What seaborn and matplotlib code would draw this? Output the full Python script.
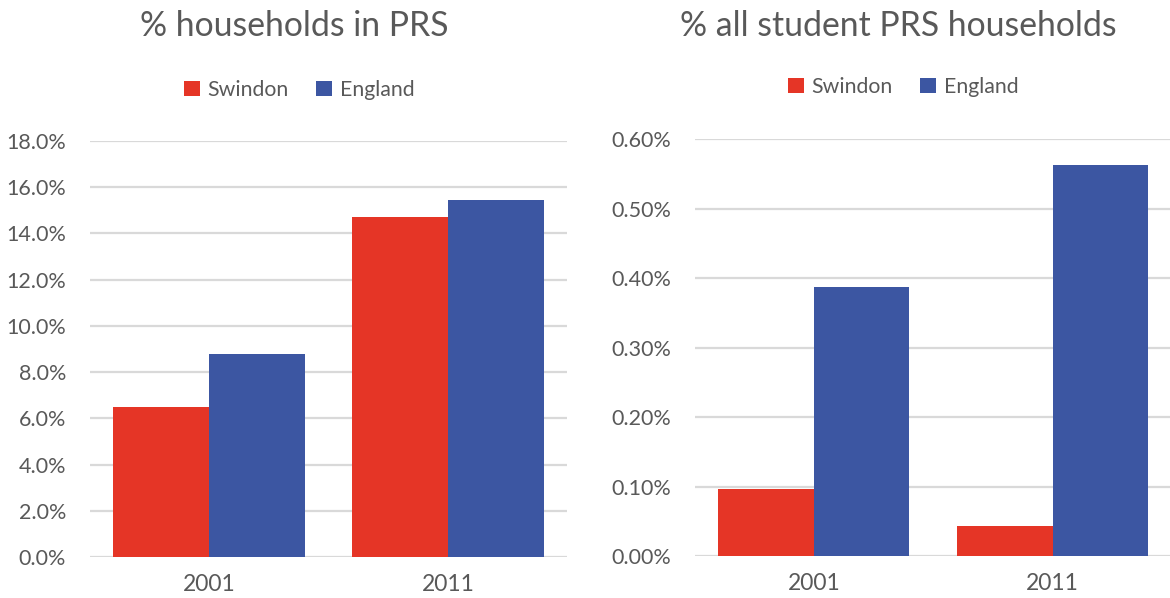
import matplotlib
matplotlib.use("Agg")
import matplotlib.pyplot as plt
import seaborn as sns
import pandas as pd

years = ["2001", "2011"]
areas = ["Swindon", "England"]
prs_swindon = [6.49, 14.73]
prs_england = [8.80, 15.44]
student_swindon = [0.097, 0.043]
student_england = [0.387, 0.563]

colors = {"Swindon": "#E53526", "England": "#3C56A2"}
text_color = "#595959"
grid_color = "#D9D9D9"

sns.set_theme(style="white")
plt.rcParams["font.family"] = ["Lato", "DejaVu Sans"]

def make_df(sw, en):
    rows = []
    for y, v in zip(years, sw):
        rows.append({"year": y, "area": "Swindon", "value": v})
    for y, v in zip(years, en):
        rows.append({"year": y, "area": "England", "value": v})
    return pd.DataFrame(rows)

fig = plt.figure(figsize=(11.7, 5.98), dpi=100)
ax1 = fig.add_axes([0.0765, 0.0686, 0.4085, 0.6957])
ax2 = fig.add_axes([0.5936, 0.0702, 0.4081, 0.6973])

specs = [
    (ax1, make_df(prs_swindon, prs_england), 18.0, 2.0, "{:.1f}%", "% households in PRS", 294, 90),
    (ax2, make_df(student_swindon, student_england), 0.60, 0.10, "{:.2f}%", "% all student PRS households", 898, 87),
]

for ax, df, ymax, step, fmt, title, tx, ly in specs:
    sns.barplot(data=df, x="year", y="value", hue="area", hue_order=areas,
                palette=colors, ax=ax, width=0.8, saturation=1, linewidth=0, errorbar=None)
    ax.set_ylim(0, ymax)
    ticks = [i * step for i in range(int(round(ymax / step)) + 1)]
    ax.set_yticks(ticks)
    ax.set_yticklabels([fmt.format(t) for t in ticks])
    ax.set_xlim(-0.5, 1.5)
    ax.yaxis.grid(True, color=grid_color, linewidth=1.6)
    ax.set_axisbelow(True)
    for s in ax.spines.values():
        s.set_visible(False)
    ax.tick_params(axis="x", length=0, labelsize=16.5, labelcolor=text_color, pad=12)
    ax.tick_params(axis="y", length=0, labelsize=15.5, labelcolor=text_color, pad=17)
    ax.set_xlabel("")
    ax.set_ylabel("")
    fig.text(tx / 1170, 1 - 26 / 598, title, ha="center", va="center",
             fontsize=24.3, color=text_color)
    handles, labels = ax.get_legend_handles_labels()
    ax.legend(handles, labels, loc="center", ncol=2, frameon=False,
              bbox_to_anchor=((tx + 5) / 1170, 1 - ly / 598), bbox_transform=fig.transFigure,
              handlelength=0.75, handleheight=0.75, handletextpad=0.35,
              columnspacing=1.3, fontsize=15.3, labelcolor=text_color)

fig.savefig("out.png", dpi=100)
